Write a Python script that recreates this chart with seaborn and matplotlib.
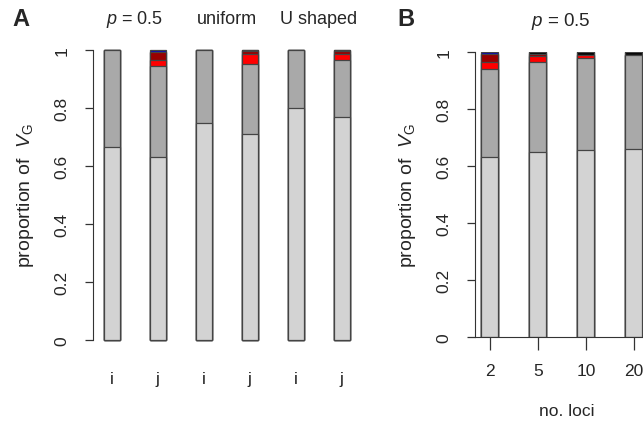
import numpy as np
import pandas as pd
import matplotlib
matplotlib.use("Agg")
import matplotlib.pyplot as plt
import seaborn as sns

# Panel A: share of V_G per bar, segments from the bottom up
a_names = ["p_i", "p_j", "u_i", "u_j", "U_i", "U_j"]
a_ticks = ["i", "j", "i", "j", "i", "j"]
a_groups = ["$p$ = 0.5", "uniform", "U shaped"]
a_light = [0.667, 0.630, 0.750, 0.710, 0.800, 0.770]
a_gray = [0.333, 0.315, 0.250, 0.243, 0.200, 0.195]
a_red = [0.0, 0.022, 0.0, 0.032, 0.0, 0.021]
a_darkred = [0.0, 0.026, 0.0, 0.010, 0.0, 0.009]
a_black = [0.0, 0.0, 0.0, 0.005, 0.0, 0.005]
a_blue = [0.0, 0.007, 0.0, 0.0, 0.0, 0.0]

# Panel B: p = 0.5, different numbers of loci
b_loci = ["2", "5", "10", "20"]
b_light = [0.630, 0.650, 0.656, 0.660]
b_gray = [0.310, 0.316, 0.324, 0.330]
b_red = [0.025, 0.019, 0.010, 0.0]
b_darkred = [0.028, 0.007, 0.0, 0.0]
b_black = [0.0, 0.008, 0.010, 0.010]
b_blue = [0.007, 0.0, 0.0, 0.0]

layer_colors = ["#d3d3d3", "#a9a9a9", "#ff0000", "#990000", "#000000", "#0000cc"]

sns.set_style("ticks")
plt.rcParams["font.family"] = ["Liberation Sans", "DejaVu Sans"]
plt.rcParams["mathtext.fontset"] = "custom"
plt.rcParams["mathtext.rm"] = "Liberation Sans"
plt.rcParams["mathtext.it"] = "Liberation Sans:italic"

W, H = 643, 427
fig = plt.figure(figsize=(W / 100, H / 100), dpi=100)


def px_axes(left, right, bottom, top):
    # pixel box -> figure fraction
    return fig.add_axes([left / W, (H - bottom) / H, (right - left) / W, (bottom - top) / H])


def stacked(ax, names, layers):
    cum = np.cumsum(np.array(layers), axis=0)
    # draw tallest stack first, lower segments on top of it
    for k in range(len(layers) - 1, -1, -1):
        sns.barplot(x=names, y=cum[k], color=layer_colors[k], width=0.35, saturation=1,
                    edgecolor="#444444", linewidth=0.9, errorbar=None, ax=ax, order=names)


# ---- panel A
axA = px_axes(93, 93 + 5.9 * 46, 341, 51)
stacked(axA, a_names, [a_light, a_gray, a_red, a_darkred, a_black, a_blue])
axA.set_xlim(-0.41, 5.49)
axA.set_ylim(0, 1)
axA.set_xticks(range(6))
axA.set_xticklabels(a_ticks, fontsize=12.5)
axA.tick_params(axis="x", length=0, pad=22)
axA.set_yticks([0, 0.2, 0.4, 0.6, 0.8, 1])
axA.set_yticklabels(["0", "0.2", "0.4", "0.6", "0.8", "1"], rotation=90, va="center", fontsize=12.5)
axA.tick_params(axis="y", length=6, width=0.9, color="#333333", pad=11)
for s in ["top", "right", "bottom"]:
    axA.spines[s].set_visible(False)
axA.spines["left"].set_bounds(0, 1)
axA.spines["left"].set_color("#333333")
axA.set_xlabel("")
axA.set_ylabel(r"proportion of  $\it{V}_{\rm G}$", fontsize=14, labelpad=13)
for p in axA.patches:
    p.set_clip_on(False)
for g, label in enumerate(a_groups):
    fig.text((112 + g * 92 + 23) / W, (H - 19) / H, label, ha="center", va="center", fontsize=13)
fig.text(21 / W, (H - 20) / H, "A", ha="center", va="center", fontsize=17, fontweight="bold")

# ---- panel B
axB = px_axes(475, 475 + 3.81 * 48, 338, 53)
stacked(axB, b_loci, [b_light, b_gray, b_red, b_darkred, b_black, b_blue])
axB.set_xlim(-0.31, 3.5)
axB.set_ylim(0, 1)
axB.set_xticks(range(4))
axB.set_xticklabels(b_loci, fontsize=12.5)
axB.tick_params(axis="x", length=9, width=0.9, color="#333333", pad=10)
axB.set_yticks([0, 0.2, 0.4, 0.6, 0.8, 1])
axB.set_yticklabels(["0", "0.2", "0.4", "0.6", "0.8", "1"], rotation=90, va="center", fontsize=12.5)
axB.tick_params(axis="y", length=6, width=0.9, color="#333333", pad=11)
for s in ["top", "right"]:
    axB.spines[s].set_visible(False)
axB.spines["left"].set_bounds(0, 1)
axB.spines["left"].set_color("#333333")
axB.spines["bottom"].set_color("#333333")
axB.set_xlabel("no. loci", fontsize=12.5, labelpad=18)
axB.set_ylabel(r"proportion of  $\it{V}_{\rm G}$", fontsize=14, labelpad=13)
fig.text(561 / W, (H - 21) / H, "$p$ = 0.5", ha="center", va="center", fontsize=13.5)
fig.text(406 / W, (H - 20) / H, "B", ha="center", va="center", fontsize=17, fontweight="bold")

fig.savefig("out.png", dpi=100)
